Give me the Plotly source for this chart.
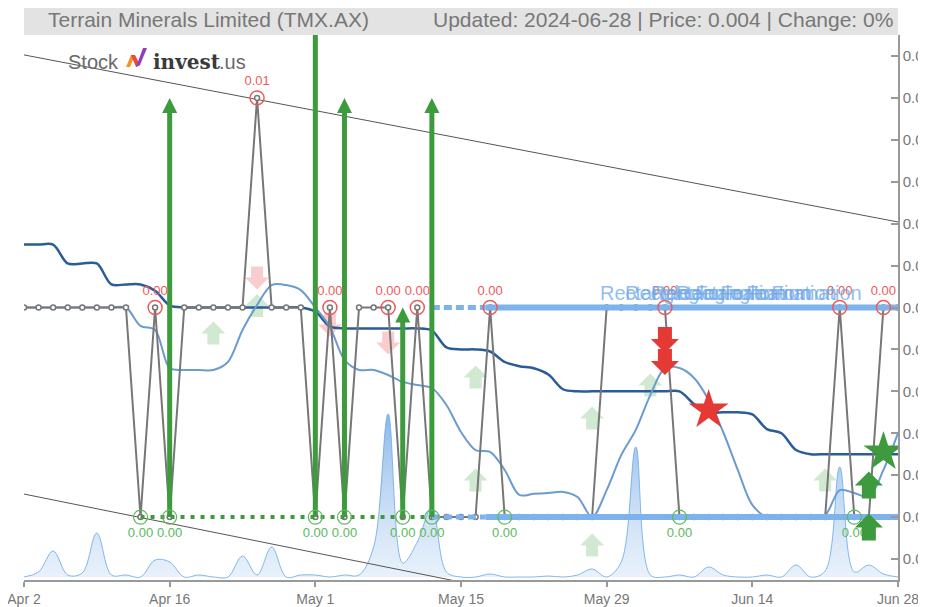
import plotly.graph_objects as go

# ---------------- data ----------------
tick_labels = ["Apr 2", "Apr 16", "May 1", "May 15", "May 29", "Jun 14", "Jun 28"]
tick_index = [0, 10, 20, 30, 40, 50, 60]

price = [0.004] * 8 + [0.003, 0.004, 0.003] + [0.004] * 5 + [0.005] + [0.004] * 3 + \
        [0.003, 0.004, 0.003] + [0.004] * 3 + [0.003, 0.004] + [0.003] * 4 + [0.004] + \
        [0.003] * 7 + [0.004] * 5 + [0.003] * 11 + [0.004] + [0.003] * 2 + [0.004] * 2

ma_long = [0.0043, 0.0043, 0.0043, 0.00421, 0.00421, 0.00421, 0.00411, 0.00411, 0.00411, 0.00408,
           0.00401, 0.004, 0.004, 0.004, 0.004, 0.004, 0.004, 0.004, 0.004, 0.004,
           0.00398, 0.00391, 0.0039, 0.0039, 0.0039, 0.0039, 0.0039, 0.0039, 0.00389, 0.00381,
           0.0038, 0.0038, 0.00379, 0.00374, 0.00372, 0.00371, 0.00368, 0.00361, 0.0036, 0.0036,
           0.0036, 0.0036, 0.0036, 0.0036, 0.0036, 0.0036, 0.00354, 0.0035, 0.0035, 0.0035,
           0.00349, 0.00342, 0.0034, 0.00332, 0.0033, 0.0033, 0.0033, 0.0033, 0.0033, 0.0033, 0.0033]

ma_short = [0.004, 0.004, 0.004, 0.004, 0.004, 0.004, 0.004, 0.004, 0.003912, 0.003893,
            0.003711, 0.003702, 0.003702, 0.003702, 0.00374, 0.003893, 0.004012, 0.004107, 0.004107, 0.004083,
            0.004, 0.003907, 0.00375, 0.003702, 0.003702, 0.003678, 0.003645, 0.00363, 0.003616, 0.003535,
            0.003406, 0.00332, 0.003311, 0.003225, 0.003106, 0.003111, 0.003115, 0.00312, 0.003096, 0.003,
            0.003129, 0.003296, 0.003416, 0.003583, 0.003711, 0.003711, 0.003664, 0.003559, 0.003406, 0.003225,
            0.003058, 0.003, 0.003, 0.003, 0.003, 0.00301, 0.003129, 0.003115, 0.003096, 0.003225, 0.003401]

volume = [0, 5, 26, 2, 4, 44, 2, 2, 0, 17,
          15, 0, 2, 0, 0, 21, 2, 30, 0, 2,
          2, 0, 2, 2, 30, 163, 14, 35, 70, 5,
          0, 0, 3, 0, 0, 0, 1, 0, 2, 8,
          0, 15, 130, 2, 0, 2, 0, 10, 2, 0,
          0, 2, 0, 12, 0, 6, 110, 5, 12, 3, 0]

peak_index = [9, 16, 21, 25, 27, 32, 44, 56, 59]
trough_index = [8, 10, 20, 22, 26, 28, 33, 45, 57]

breakout_index = [10, 20, 22, 26, 28]
breakout_target = [0.005, 0.0056, 0.005, 0.004, 0.005]

support = 0.003
resistance = 0.004
green_dotted_span = [8, 28]
rect_dashed_span = [28, 31.7]
rect_solid_span = [31.7, 60]

trend_top_x = [0, 60]
trend_top_y = [0.005205, 0.004408]
trend_bot_x = [0, 60]
trend_bot_y = [0.00311, 0.00227]

faded_up_x = [13, 16, 31, 31, 39, 39, 43, 55]
faded_up_y = [0.003878, 0.00401, 0.003668, 0.003177, 0.003473, 0.002867, 0.00363, 0.003177]
faded_down_x = [16, 21, 25]
faded_down_y = [0.004141, 0.003917, 0.003831]
sell_x = [44, 44]
sell_y = [0.003845, 0.00374]
buy_x = [58, 58]
buy_y = [0.003153, 0.002953]
sell_star = (47, 0.003511)
buy_star = (59, 0.003311)

pattern_text = "Rectangle Formation"
pattern_x = [39.4, 41.1, 42.9, 44.6]
pattern_y = 0.00407

title_left = "Terrain Minerals Limited (TMX.AX)"
title_right = "Updated: 2024-06-28 | Price: 0.004 | Change: 0%"

# ---------------- style ----------------
FONT = "Liberation Sans, Arial, sans-serif"
GRAY = "#777777"
GREEN = "#3d9a3d"
LGREEN = "#5cb85c"
RED = "#e53935"
LRED = "#ec5b5b"
SRBLUE = "#7db3ea"
Y_RANGE = [0.0027, 0.0053]
PLOT_W = 874
PLOT_H = 545
TOP = 27  # top margin (page adds 8px body offset)
px = (Y_RANGE[1] - Y_RANGE[0]) / PLOT_H

fig = go.Figure()

# volume (primary hidden axis, drawn below)
fig.add_trace(go.Scatter(
    x=list(range(len(volume))), y=volume, mode="lines", yaxis="y",
    line=dict(color="rgba(110,170,230,0.85)", width=1, shape="spline", smoothing=1),
    fill="tozeroy",
    fillgradient=dict(type="vertical", start=0, stop=max(volume),
                      colorscale=[[0, "rgba(190,215,245,0.35)"], [1, "rgba(100,160,225,0.75)"]]),
    hoverinfo="skip", showlegend=False))

# trend channel
for tx, ty in [(trend_top_x, trend_top_y), (trend_bot_x, trend_bot_y)]:
    fig.add_trace(go.Scatter(x=tx, y=ty, mode="lines", yaxis="y2",
                             line=dict(color="#555555", width=1), showlegend=False, hoverinfo="skip"))

# moving averages
fig.add_trace(go.Scatter(x=list(range(len(ma_long))), y=ma_long, mode="lines", yaxis="y2",
                         line=dict(color="#2b5c97", width=2.5, shape="spline", smoothing=0.9),
                         showlegend=False))
fig.add_trace(go.Scatter(x=list(range(len(ma_short))), y=ma_short, mode="lines", yaxis="y2",
                         line=dict(color="#6b9bd0", width=2, shape="spline", smoothing=0.9),
                         showlegend=False))

# price
fig.add_trace(go.Scatter(x=list(range(len(price))), y=price, mode="lines+markers", yaxis="y2",
                         line=dict(color=GRAY, width=2),
                         marker=dict(size=5, color="white", line=dict(color=GRAY, width=1.5)),
                         showlegend=False))

# support / resistance (rectangle)
for lvl in [support, resistance]:
    fig.add_trace(go.Scatter(x=rect_dashed_span, y=[lvl, lvl], mode="lines", yaxis="y2",
                             line=dict(color=SRBLUE, width=5, dash="8px,4px"), showlegend=False))
    fig.add_trace(go.Scatter(x=rect_solid_span, y=[lvl, lvl], mode="lines", yaxis="y2",
                             line=dict(color=SRBLUE, width=6), showlegend=False))

fig.add_trace(go.Scatter(x=green_dotted_span, y=[support, support], mode="lines", yaxis="y2",
                         line=dict(color=GREEN, width=4, dash="4px,6px"), showlegend=False))

# breakout arrows
head = 15
for bi, bt in zip(breakout_index, breakout_target):
    fig.add_trace(go.Scatter(x=[bi, bi], y=[support, bt - head * px * 0.6], mode="lines", yaxis="y2",
                             line=dict(color=GREEN, width=5), showlegend=False, hoverinfo="skip"))
fig.add_trace(go.Scatter(x=breakout_index, y=breakout_target, mode="markers", yaxis="y2",
                         marker=dict(symbol="arrow-up", size=head, color=GREEN),
                         showlegend=False, hoverinfo="skip"))

# pivots
fig.add_trace(go.Scatter(
    x=peak_index, y=[price[i] for i in peak_index], mode="markers+text", yaxis="y2",
    marker=dict(size=14, color="rgba(0,0,0,0)", line=dict(color=LRED, width=1.5)),
    text=[f"{price[i]:.2f}" for i in peak_index], textposition="top center",
    textfont=dict(color=LRED, size=13, family=FONT), showlegend=False))
fig.add_trace(go.Scatter(
    x=trough_index, y=[price[i] for i in trough_index], mode="markers+text", yaxis="y2",
    marker=dict(size=14, color="rgba(0,0,0,0)", line=dict(color=LGREEN, width=1.2)),
    text=[f"{price[i]:.2f}" for i in trough_index], textposition="bottom center",
    textfont=dict(color=LGREEN, size=13, family=FONT), showlegend=False))

# stars
fig.add_trace(go.Scatter(x=[sell_star[0]], y=[sell_star[1]], mode="markers", yaxis="y2",
                         marker=dict(symbol="star", size=30, color=RED, line=dict(width=0)),
                         showlegend=False))
fig.add_trace(go.Scatter(x=[buy_star[0]], y=[buy_star[1]], mode="markers", yaxis="y2",
                         marker=dict(symbol="star", size=30, color=GREEN, line=dict(width=0)),
                         showlegend=False))


def arrow_path(w, h, s, L, down=False):
    t = (h + L) / 2
    pts = [(0, t), (w, t - h), (s, t - h), (s, -t), (-s, -t), (-s, t - h), (-w, t - h)]
    if down:
        pts = [(x, -y) for x, y in pts]
    return "M" + " L".join(f"{x},{y}" for x, y in pts) + " Z"


shapes = []


def add_arrows(xs, ys, color, down, dims, layer):
    for x, y in zip(xs, ys):
        shapes.append(dict(type="path", xref="x", yref="y2", xsizemode="pixel", ysizemode="pixel",
                           xanchor=x, yanchor=y, path=arrow_path(*dims, down=down),
                           fillcolor=color, line=dict(width=0), layer=layer))


add_arrows(faded_up_x, faded_up_y, "rgba(90,175,90,0.28)", False, (12, 12, 6, 11), "below")
add_arrows(faded_down_x, faded_down_y, "rgba(235,90,90,0.3)", True, (12, 12, 6, 11), "below")
add_arrows(sell_x, sell_y, RED, True, (14, 14, 7, 12), "above")
add_arrows(buy_x, buy_y, GREEN, False, (14, 14, 7, 13), "above")

# title box (screen y 5..35 -> figure top clipped)
shapes.append(dict(type="rect", xref="paper", yref="paper", x0=0, x1=1, y0=1, y1=1 + TOP / PLOT_H,
                   fillcolor="#e3e3e3", line=dict(width=0), layer="below"))


def sx(xpix):  # screen pixel -> paper x
    return (xpix - 24) / PLOT_W


def sy(ypix):  # screen pixel -> paper y
    return (580 - ypix) / PLOT_H


# logo icon
for path, col in [("M0,0 L5,12 L9,12 L4,0 Z", "#f7941d"),
                  ("M5,12 L9,12 L14,2 L10,0 Z", "#ee4a3c"),
                  ("M10,0 L14,2 L21,19 L17,19 Z", "#8e3fbf")]:
    shapes.append(dict(type="path", xref="paper", yref="paper", xsizemode="pixel", ysizemode="pixel",
                       xanchor=sx(126), yanchor=sy(67), path=path, fillcolor=col, line=dict(width=0)))

annotations = [
    dict(text=title_left, xref="paper", yref="paper", x=sx(46), y=sy(20),
         xanchor="left", yanchor="middle", showarrow=False, font=dict(size=21, color=GRAY, family=FONT)),
    dict(text=title_right, xref="paper", yref="paper", x=sx(895), y=sy(20),
         xanchor="right", yanchor="middle", showarrow=False, font=dict(size=21, color=GRAY, family=FONT)),
    dict(text="Stock", xref="paper", yref="paper", x=sx(66), y=sy(62),
         xanchor="left", yanchor="middle", showarrow=False,
         font=dict(size=20, color="#6a6a6a", family="Liberation Sans, Arial")),
    dict(text="<b>invest</b>", xref="paper", yref="paper", x=sx(151), y=sy(62),
         xanchor="left", yanchor="middle", showarrow=False,
         font=dict(size=20, color="#3a3a3a", family="DejaVu Serif, serif")),
    dict(text=".us", xref="paper", yref="paper", x=sx(217), y=sy(62),
         xanchor="left", yanchor="middle", showarrow=False,
         font=dict(size=20, color="#6a6a6a", family="Liberation Sans, Arial")),
]
for p in pattern_x:
    annotations.append(dict(text=pattern_text, x=p, y=pattern_y, xref="x", yref="y2",
                            xanchor="left", yanchor="middle", showarrow=False,
                            font=dict(size=20, color="rgba(110,168,232,0.75)", family=FONT)))

fig.update_layout(
    template="none",
    width=918, height=599,
    margin=dict(l=16, r=28, t=TOP, b=27),
    paper_bgcolor="white", plot_bgcolor="white",
    font=dict(family=FONT, color="#666666", size=14),
    showlegend=False,
    xaxis=dict(range=[0, 60], tickvals=tick_index, ticktext=tick_labels, showgrid=False,
               zeroline=False, showline=True, linecolor="#999999", linewidth=1.5,
               ticks="outside", ticklen=5, tickcolor="#999999", tickwidth=1.5,
               ticklabeloverflow="allow",
               tickfont=dict(size=14, color="#777777", family=FONT), automargin=False),
    yaxis=dict(range=[-3, 542], visible=False, fixedrange=True),
    yaxis2=dict(range=Y_RANGE, overlaying="y", side="right", anchor="x",
                tickvals=[0.0028 + 0.0002 * k for k in range(13)], tickformat=".2f",
                showgrid=False, zeroline=False, showline=True, linecolor="#999999", linewidth=1.5,
                ticks="inside", ticklen=7, tickcolor="#999999", tickwidth=1.5,
                ticklabeloverflow="allow",
                tickfont=dict(size=15, color="#777777", family=FONT), automargin=False),
    shapes=shapes,
    annotations=annotations,
)

fig.write_html("out.html")
